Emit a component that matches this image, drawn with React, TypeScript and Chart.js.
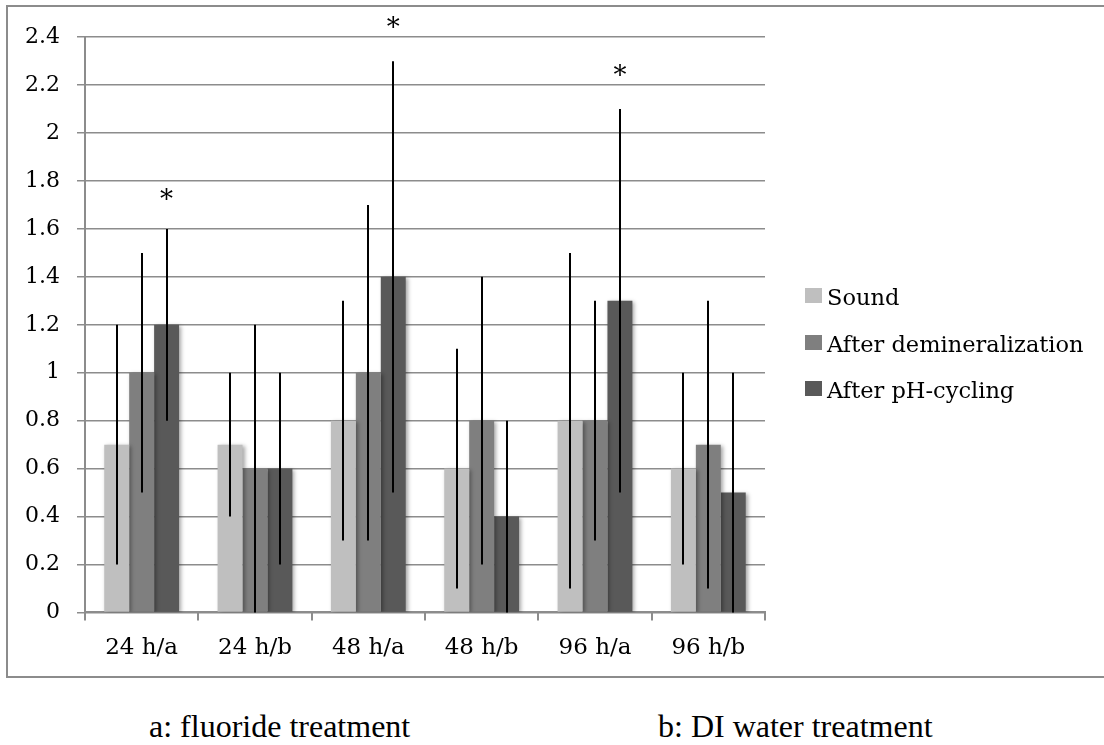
import React, { useEffect, useRef } from "react";
import { Chart, registerables } from "chart.js";

Chart.register(...registerables);

const categories = ["24 h/a", "24 h/b", "48 h/a", "48 h/b", "96 h/a", "96 h/b"];
const seriesNames = ["Sound", "After demineralization", "After pH-cycling"];
const seriesColors = ["#bfbfbf", "#7f7f7f", "#595959"];

const soundValues = [0.7, 0.7, 0.8, 0.6, 0.8, 0.6];
const soundLow = [0.2, 0.4, 0.3, 0.1, 0.1, 0.2];
const soundHigh = [1.2, 1.0, 1.3, 1.1, 1.5, 1.0];

const demineralizationValues = [1.0, 0.6, 1.0, 0.8, 0.8, 0.7];
const demineralizationLow = [0.5, 0.0, 0.3, 0.2, 0.3, 0.1];
const demineralizationHigh = [1.5, 1.2, 1.7, 1.4, 1.3, 1.3];

const phCyclingValues = [1.2, 0.6, 1.4, 0.4, 1.3, 0.5];
const phCyclingLow = [0.8, 0.2, 0.5, 0.0, 0.5, 0.0];
const phCyclingHigh = [1.6, 1.0, 2.3, 0.8, 2.1, 1.0];

// asterisk (significance) marks over the "After pH-cycling" bars, in axis units
const significanceMarks: (number | null)[] = [1.74, null, 2.46, null, 2.26, null];

const yMin = 0;
const yMax = 2.4;
const yStep = 0.2;

const captionA = "a: fluoride treatment";
const captionB = "b: DI water treatment";

const FONT = "DejaVu Serif";

const shadowAndErrorPlugin = {
  id: "shadowAndError",
  beforeDatasetsDraw(chart: any) {
    const ctx = chart.ctx;
    ctx.save();
    ctx.shadowColor = "rgba(0,0,0,0.35)";
    ctx.shadowBlur = 4;
    ctx.shadowOffsetX = 2;
    ctx.shadowOffsetY = 1;
  },
  afterDatasetsDraw(chart: any) {
    const ctx = chart.ctx;
    ctx.restore();
    const y = chart.scales.y;
    ctx.save();
    ctx.strokeStyle = "#000";
    ctx.lineWidth = 2;
    chart.data.datasets.forEach((ds: any, i: number) => {
      const meta = chart.getDatasetMeta(i);
      meta.data.forEach((bar: any, j: number) => {
        const lo = ds.errLow[j];
        const hi = ds.errHigh[j];
        const x = Math.round(bar.x);
        ctx.beginPath();
        ctx.moveTo(x, y.getPixelForValue(lo));
        ctx.lineTo(x, y.getPixelForValue(hi));
        ctx.stroke();
      });
      if (ds.marks) {
        ctx.fillStyle = "#000";
        ctx.font = `26px "${FONT}"`;
        ctx.textAlign = "center";
        ctx.textBaseline = "middle";
        meta.data.forEach((bar: any, j: number) => {
          const m = ds.marks[j];
          if (m == null) return;
          ctx.fillText("*", bar.x, y.getPixelForValue(m) + 6);
        });
      }
    });
    ctx.restore();
  },
};

export default function App() {
  const canvasRef = useRef<HTMLCanvasElement | null>(null);

  useEffect(() => {
    if (!canvasRef.current) return;
    const font = { family: FONT, size: 22 };
    const chart = new Chart(canvasRef.current, {
      type: "bar",
      data: {
        labels: categories,
        datasets: [
          {
            label: seriesNames[0],
            data: soundValues,
            backgroundColor: seriesColors[0],
            borderWidth: 0,
            errLow: soundLow,
            errHigh: soundHigh,
          } as any,
          {
            label: seriesNames[1],
            data: demineralizationValues,
            backgroundColor: seriesColors[1],
            borderWidth: 0,
            errLow: demineralizationLow,
            errHigh: demineralizationHigh,
          } as any,
          {
            label: seriesNames[2],
            data: phCyclingValues,
            backgroundColor: seriesColors[2],
            borderWidth: 0,
            errLow: phCyclingLow,
            errHigh: phCyclingHigh,
            marks: significanceMarks,
          } as any,
        ],
      },
      options: {
        responsive: true,
        maintainAspectRatio: false,
        animation: false,
        events: [],
        layout: { padding: { top: 28, left: 0, bottom: 0, right: 339 } },
        datasets: { bar: { categoryPercentage: 0.66, barPercentage: 1 } },
        plugins: {
          legend: { display: false },
          tooltip: { enabled: false },
        },
        scales: {
          x: {
            grid: {
              display: true,
              drawOnChartArea: false,
              drawTicks: true,
              tickLength: 8,
              color: "#8c8c8c",
              lineWidth: 2,
              offset: true,
            },
            border: { color: "#8c8c8c", width: 2 },
            ticks: { font: { family: FONT, size: 23 }, color: "#000", padding: 14 },
          },
          y: {
            min: yMin,
            max: yMax,
            ticks: {
              stepSize: yStep,
              font,
              color: "#000",
              padding: 17,
              callback: (v: any) => String(Number(Number(v).toFixed(1))),
            },
            grid: { color: "#8c8c8c", lineWidth: 1.5, tickLength: 8 },
            border: { color: "#8c8c8c", width: 2 },
          },
        },
      },
      plugins: [shadowAndErrorPlugin],
    } as any);
    return () => chart.destroy();
  }, []);

  const captionStyle: React.CSSProperties = {
    position: "absolute",
    top: 710,
    fontFamily: "Liberation Serif",
    fontSize: 32,
    lineHeight: 1,
    color: "#000",
    whiteSpace: "nowrap",
  };

  const legendTops = [288, 335, 381];

  return (
    <div
      style={{
        position: "absolute",
        left: 0,
        top: 0,
        width: 1104,
        height: 745,
        overflow: "hidden",
        background: "#fff",
      }}
    >
      <div
        style={{
          position: "absolute",
          left: 6,
          top: 5,
          width: 1110,
          height: 669,
          border: "2px solid #8c8c8c",
        }}
      />
      <div style={{ position: "absolute", left: 8, top: 7, width: 1096, height: 669 }}>
        <canvas ref={canvasRef} />
      </div>
      {seriesNames.map((name, i) => (
        <React.Fragment key={name}>
          <div
            style={{
              position: "absolute",
              left: 805,
              top: legendTops[i],
              width: 17,
              height: 15,
              background: seriesColors[i],
            }}
          />
          <div
            style={{
              position: "absolute",
              left: 827,
              top: legendTops[i] + 9 - 15,
              height: 30,
              lineHeight: "30px",
              fontFamily: FONT,
              fontSize: 22.5,
              color: "#000",
              whiteSpace: "nowrap",
            }}
          >
            {name}
          </div>
        </React.Fragment>
      ))}
      <div style={{ ...captionStyle, left: 149 }}>{captionA}</div>
      <div style={{ ...captionStyle, left: 658 }}>{captionB}</div>
    </div>
  );
}
